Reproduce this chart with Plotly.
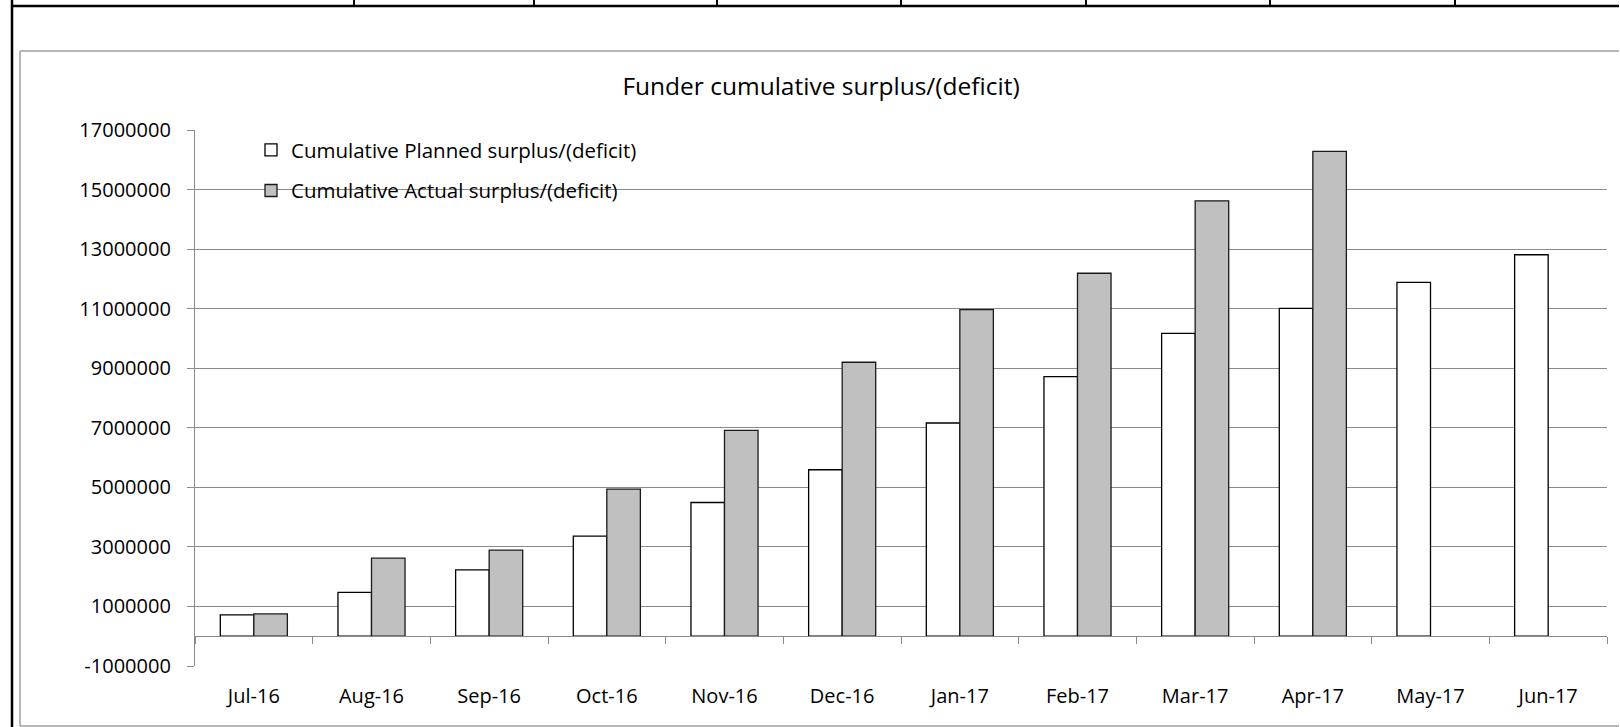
import plotly.graph_objects as go

months = ["Jul-16", "Aug-16", "Sep-16", "Oct-16", "Nov-16", "Dec-16",
          "Jan-17", "Feb-17", "Mar-17", "Apr-17", "May-17", "Jun-17"]
planned = [720000, 1470000, 2230000, 3360000, 4490000, 5590000,
           7160000, 8720000, 10170000, 11010000, 11880000, 12810000]
actual = [750000, 2620000, 2890000, 4940000, 6910000, 9200000,
          10970000, 12190000, 14620000, 16280000, None, None]
y_ticks = [-1000000, 1000000, 3000000, 5000000, 7000000, 9000000,
           11000000, 13000000, 15000000, 17000000]
y_ticktext = ["-1000000", "1000000", "3000000", "5000000", "7000000", "9000000",
              "11000000", "13000000", "15000000", "17000000"]
title_text = "Funder cumulative surplus/(deficit)"
planned_name = "Cumulative Planned surplus/(deficit)"
actual_name = "Cumulative Actual surplus/(deficit)"

W, H = 1620, 727
ML, MR, MT, MB = 195, 13, 130, 61
PW, PH = W - ML - MR, H - MT - MB
YMIN, YMAX = -1000000, 17000000
FONT = "Open Sans"
GRID = "#8a8a8a"

def px(x):
    return (x - ML) / PW

def py(y):
    return (H - MB - y) / PH

fig = go.Figure()
fig.add_trace(go.Bar(x=months, y=planned, name=planned_name,
                     marker=dict(color="#ffffff", line=dict(color="#000000", width=1.3)),
                     legendgroup="a"))
fig.add_trace(go.Bar(x=months, y=actual, name=actual_name,
                     marker=dict(color="#c0c0c0", line=dict(color="#1a1a1a", width=1.3)),
                     legendgroup="b"))
# helper trace for the category axis drawn at zero
fig.add_trace(go.Scatter(x=months, y=[0] * len(months), xaxis="x2", mode="none",
                         showlegend=False, hoverinfo="skip"))

shapes = []
# spreadsheet frame around the chart
shapes.append(dict(type="line", xref="paper", yref="paper", x0=px(12), x1=px(1619),
                   y0=py(6), y1=py(6), line=dict(color="#000000", width=2.5)))
shapes.append(dict(type="line", xref="paper", yref="paper", x0=px(12), x1=px(12),
                   y0=py(0), y1=py(727), line=dict(color="#000000", width=2.5)))
for cx in [354, 534, 717, 901, 1086, 1270, 1455]:
    shapes.append(dict(type="line", xref="paper", yref="paper", x0=px(cx), x1=px(cx),
                       y0=py(0), y1=py(6), line=dict(color="#000000", width=2)))
# chart area border: top, left, bottom (right side lies beyond the page)
shapes.append(dict(type="line", xref="paper", yref="paper", x0=px(20), x1=px(1619),
                   y0=py(51), y1=py(51), line=dict(color="#a0a0a0", width=1.5)))
shapes.append(dict(type="line", xref="paper", yref="paper", x0=px(20), x1=px(20),
                   y0=py(51), y1=py(726), line=dict(color="#a0a0a0", width=1.5)))
shapes.append(dict(type="line", xref="paper", yref="paper", x0=px(20), x1=px(1619),
                   y0=py(726), y1=py(726), line=dict(color="#a0a0a0", width=1.5)))

fig.update_layout(
    width=W, height=H,
    margin=dict(l=ML, r=MR, t=MT, b=MB, pad=0),
    paper_bgcolor="#ffffff", plot_bgcolor="#ffffff",
    font=dict(family=FONT, size=20, color="#000000"),
    barmode="group", bargap=0.43, bargroupgap=0,
    title=dict(text=title_text, x=821 / W, xanchor="center", xref="container",
               y=1 - 86 / H, yanchor="middle", yref="container",
               font=dict(family=FONT, size=24.5, color="#000000")),
    showlegend=True,
    legend=dict(x=px(251), y=py(130), xanchor="left", yanchor="top",
                bgcolor="rgba(0,0,0,0)", borderwidth=0,
                traceorder="grouped", tracegroupgap=11,
                font=dict(family=FONT, size=20.5, color="#000000")),
    xaxis=dict(type="category", range=[-0.5, 11.5], showgrid=False, showline=False,
               ticks="", zeroline=False, ticklabelstandoff=16,
               tickfont=dict(family=FONT, size=20, color="#000000")),
    xaxis2=dict(type="category", range=[-0.5, 11.5], overlaying="x", anchor="free",
                position=(0 - YMIN) / (YMAX - YMIN), side="bottom",
                showline=True, linecolor=GRID, linewidth=1.3,
                ticks="outside", ticklen=7, tickwidth=1.3, tickcolor=GRID,
                tickson="boundaries", showticklabels=False, showgrid=False,
                zeroline=False),
    yaxis=dict(range=[YMIN, YMAX], tickvals=y_ticks, ticktext=y_ticktext,
               showgrid=True, gridcolor=GRID, gridwidth=1.3,
               showline=True, linecolor=GRID, linewidth=1.3,
               ticks="outside", ticklen=7, tickwidth=1.3, tickcolor=GRID,
               zeroline=False, ticklabelstandoff=12,
               tickfont=dict(family=FONT, size=20, color="#000000")),
    shapes=shapes,
)

fig.write_html("out.html", config={"displayModeBar": False})
